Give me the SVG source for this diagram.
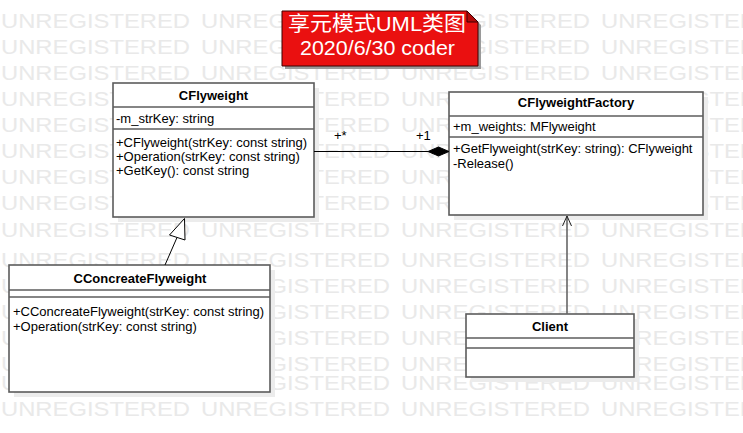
<svg xmlns="http://www.w3.org/2000/svg" xmlns:xlink="http://www.w3.org/1999/xlink" width="743" height="433" viewBox="0 0 743 433">
<style>
  .wm { font-family: "Liberation Sans", Arial, sans-serif; font-size: 19.5px; fill: #e9e9e9; }
  .box { fill: #ffffff; stroke: #5c5c5c; stroke-width: 1.6; }
  .shadow { fill: #ececec; }
  .div { stroke: #5c5c5c; stroke-width: 1.6; }
  .t { font-family: "Liberation Sans", Arial, sans-serif; font-size: 13px; fill: #000; }
  .b { font-weight: bold; text-anchor: middle; }
  .title { font-family: "Liberation Sans", "Noto Sans CJK SC", Arial, sans-serif; font-size: 20.5px; fill: #ffffff; text-anchor: middle; }
</style>
<defs>
  <g id="wmrow">
    <text class="wm" x="1" y="0" textLength="189" lengthAdjust="spacingAndGlyphs">UNREGISTERED</text>
    <text class="wm" x="201" y="0" textLength="189" lengthAdjust="spacingAndGlyphs">UNREGISTERED</text>
    <text class="wm" x="401" y="0" textLength="189" lengthAdjust="spacingAndGlyphs">UNREGISTERED</text>
    <text class="wm" x="601" y="0" textLength="189" lengthAdjust="spacingAndGlyphs">UNREGISTERED</text>
  </g>
</defs>
<rect width="743" height="433" fill="#ffffff"/>
<g id="watermark">
  <use xlink:href="#wmrow" y="27.5"/>
  <use xlink:href="#wmrow" y="53.5"/>
  <use xlink:href="#wmrow" y="79.5"/>
  <use xlink:href="#wmrow" y="105.5"/>
  <use xlink:href="#wmrow" y="131.5"/>
  <use xlink:href="#wmrow" y="157.5"/>
  <use xlink:href="#wmrow" y="183.5"/>
  <use xlink:href="#wmrow" y="209.5"/>
  <use xlink:href="#wmrow" y="236.5"/>
  <use xlink:href="#wmrow" y="266.5"/>
  <use xlink:href="#wmrow" y="292.5"/>
  <use xlink:href="#wmrow" y="318.5"/>
  <use xlink:href="#wmrow" y="344.5"/>
  <use xlink:href="#wmrow" y="370.5"/>
  <use xlink:href="#wmrow" y="389.5"/>
  <use xlink:href="#wmrow" y="415.5"/>
</g>

<g id="title-note">
  <polygon points="285,14 470,14 481,25 481,69 285,69" fill="#9a9a9a"/>
  <polygon points="282,11 467,11 478,22 478,66 282,66" fill="#ea1010" stroke="#3a0000" stroke-width="1"/>
  <polygon points="467,11 467,22 478,22" fill="#b00a0a" stroke="#3a0000" stroke-width="1"/>
  <text class="title" x="377" y="31" textLength="178" lengthAdjust="spacingAndGlyphs">享元模式UML类图</text>
  <text class="title" x="377.5" y="54.5" textLength="155" lengthAdjust="spacingAndGlyphs">2020/6/30 coder</text>
</g>

<g id="CFlyweight">
  <rect class="shadow" x="118" y="88" width="201" height="134"/>
  <rect class="box" x="113" y="83" width="201" height="134"/>
  <line class="div" x1="113" y1="107" x2="314" y2="107"/>
  <line class="div" x1="113" y1="129" x2="314" y2="129"/>
  <text class="t b" x="213.5" y="100">CFlyweight</text>
  <text class="t" x="116" y="122.5">-m_strKey: string</text>
  <text class="t" x="116" y="146.5">+CFlyweight(strKey: const string)</text>
  <text class="t" x="116" y="160.5">+Operation(strKey: const string)</text>
  <text class="t" x="116" y="174.5">+GetKey(): const string</text>
</g>

<g id="CFlyweightFactory">
  <rect class="shadow" x="454" y="97" width="254" height="123"/>
  <rect class="box" x="449" y="92" width="254" height="123"/>
  <line class="div" x1="449" y1="116" x2="703" y2="116"/>
  <line class="div" x1="449" y1="137" x2="703" y2="137"/>
  <text class="t b" x="576" y="107">CFlyweightFactory</text>
  <text class="t" x="453" y="131">+m_weights: MFlyweight</text>
  <text class="t" x="453" y="153">+GetFlyweight(strKey: string): CFlyweight</text>
  <text class="t" x="453" y="167.5">-Release()</text>
</g>

<g id="CConcreateFlyweight">
  <rect class="shadow" x="14" y="270" width="261" height="127"/>
  <rect class="box" x="9" y="265" width="261" height="127"/>
  <line class="div" x1="9" y1="290" x2="270" y2="290"/>
  <line class="div" x1="9" y1="297" x2="270" y2="297"/>
  <text class="t b" x="140" y="283">CConcreateFlyweight</text>
  <text class="t" x="13" y="316">+CConcreateFlyweight(strKey: const string)</text>
  <text class="t" x="13" y="330.5">+Operation(strKey: const string)</text>
</g>

<g id="Client">
  <rect class="shadow" x="471" y="319" width="168" height="63"/>
  <rect class="box" x="466" y="314" width="168" height="63"/>
  <line class="div" x1="466" y1="338" x2="634" y2="338"/>
  <line class="div" x1="466" y1="348" x2="634" y2="348"/>
  <text class="t b" x="550" y="331">Client</text>
</g>

<g id="connectors">
  <!-- composition CFlyweight -> CFlyweightFactory -->
  <line x1="314" y1="151.5" x2="428" y2="151.5" stroke="#000" stroke-width="1"/>
  <polygon points="449,151.5 438.5,147 428,151.5 438.5,156" fill="#000" stroke="#000" stroke-width="1"/>
  <text class="t" x="334" y="140">+*</text>
  <text class="t" x="416" y="140">+1</text>
  <!-- generalization CConcreateFlyweight -> CFlyweight -->
  <line x1="165" y1="265" x2="177" y2="237.5" stroke="#000" stroke-width="1"/>
  <polygon points="184.5,218.5 169.5,235 185,240" fill="#ffffff" stroke="#000" stroke-width="1"/>
  <!-- dependency Client -> CFlyweightFactory -->
  <line x1="567" y1="314" x2="567" y2="216" stroke="#666" stroke-width="1.6"/>
  <polyline points="562.5,226 567,216 571.5,226" fill="none" stroke="#222" stroke-width="1"/>
</g>
</svg>
